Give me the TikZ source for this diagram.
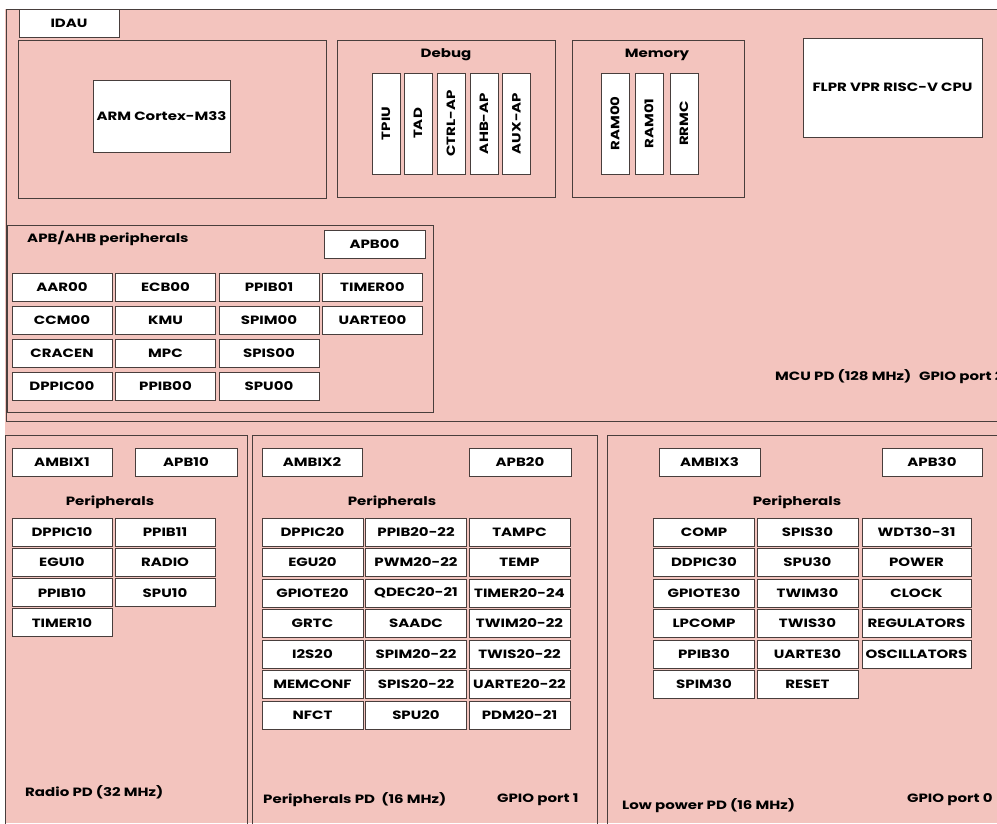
\documentclass[tikz,border=0pt]{standalone}
\usepackage{fontspec}
\setmainfont{Poppins}[FakeStretch=1.25]
\usetikzlibrary{positioning}
\definecolor{pdpink}{RGB}{243,196,190}
\definecolor{edgegray}{RGB}{72,62,60}

\begin{document}
\begin{tikzpicture}[
    x=1pt,
    y=-1pt,
    region/.style={draw=edgegray,line width=1pt},
    block/.style={draw=edgegray,fill=white,line width=0.9pt,inner sep=0pt,
      minimum height=28pt,font=\fontsize{12}{14}\selectfont\bfseries},
    vblock/.style={block,minimum width=101pt,minimum height=28pt,rotate=90},
    title/.style={inner sep=0pt,font=\fontsize{12}{14}\selectfont\bfseries}
]
  \useasboundingbox (0,0) rectangle (997,823);
  \fill[pdpink] (5,9) rectangle (997,823);

  % power domains
  \draw[region] (6,9) rectangle (1010,421);
  \draw[region] (18,40) rectangle (326,198);
  \draw[region] (337,40) rectangle (555,197);
  \draw[region] (572,40) rectangle (744,197);
  \draw[region] (7,225) rectangle (433,412);
  \draw[region] (5,435) rectangle (247,830);
  \draw[region] (252,435) rectangle (597,830);
  \draw[region] (607,435) rectangle (1010,830);

  % MCU PD
  \node[block,minimum width=100pt] (idau) at (69,23) {IDAU};
  \node[block,minimum width=137pt,minimum height=72pt] (arm) at (161.5,116) {ARM Cortex-M33};
  \node[block,minimum width=179pt,minimum height=99pt] (flpr) at (892.5,87.5) {FLPR VPR RISC-V CPU};

  \node[title] (debug) at (446,55) {Debug};
  \foreach \lbl/\x in {TPIU/386,TAD/418,CTRL-AP/451,AHB-AP/484,AUX-AP/516.5}
    \node[vblock] (dbg\lbl) at (\x,123.5) {\lbl};
  \node[title] (memory) at (657,55) {Memory};
  \foreach \lbl/\x in {RAM00/615,RAM01/649,RRMC/684}
    \node[vblock] (mem\lbl) at (\x,123.5) {\lbl};

  \node[title,anchor=west] (apbtitle) at (27,238) {APB/AHB peripherals};
  \node[block,minimum width=101pt] (apb00) at (374.5,244) {APB00};
  \foreach \lbl/\c/\r in {AAR00/0/0,CCM00/0/1,CRACEN/0/2,DPPIC00/0/3,
      ECB00/1/0,KMU/1/1,MPC/1/2,PPIB00/1/3,
      PPIB01/2/0,SPIM00/2/1,SPIS00/2/2,SPU00/2/3,
      TIMER00/3/0,UARTE00/3/1}
    \node[block,minimum width=100pt] (apb\c\r) at (62+103.5*\c,287+33*\r) {\lbl};

  \node[title,anchor=west] (mcupd) at (775,376) {MCU PD (128 MHz)};
  \node[title,anchor=west] (gpio2) at (919,378) {GPIO port 2};

  % Radio PD
  \node[block,minimum width=100pt] (ambix1) at (62,462) {AMBIX1};
  \node[block,minimum width=102pt] (apb10) at (186,462) {APB10};
  \node[title] (radioper) at (110,502) {Peripherals};
  \foreach \lbl/\c/\r in {DPPIC10/0/0,EGU10/0/1,PPIB10/0/2,TIMER10/0/3,
      PPIB11/1/0,RADIO/1/1,SPU10/1/2}
    \node[block,minimum width=100pt] (rad\c\r) at (62+103*\c,532+30.3*\r) {\lbl};
  \node[title,anchor=west] (radiopd) at (25,792) {Radio PD (32 MHz)};

  % Peripherals PD
  \node[block,minimum width=100pt] (ambix2) at (312,462) {AMBIX2};
  \node[block,minimum width=102pt] (apb20) at (520,462) {APB20};
  \node[title] (perper) at (392,502) {Peripherals};
  \foreach \lbl/\c/\r in {DPPIC20/0/0,EGU20/0/1,GPIOTE20/0/2,GRTC/0/3,I2S20/0/4,MEMCONF/0/5,NFCT/0/6,
      PPIB20-22/1/0,PWM20-22/1/1,QDEC20-21/1/2,SAADC/1/3,SPIM20-22/1/4,SPIS20-22/1/5,SPU20/1/6,
      TAMPC/2/0,TEMP/2/1,TIMER20-24/2/2,TWIM20-22/2/3,TWIS20-22/2/4,UARTE20-22/2/5,PDM20-21/2/6}
    \node[block,minimum width=101pt] (per\c\r) at (312.5+103.5*\c,532+30.5*\r) {\lbl};
  \node[title,anchor=west] (perpd) at (263,800) {Peripherals PD\ \ (16 MHz)};
  \node[title,anchor=west] (gpio1) at (497,800) {GPIO port 1};

  % Low power PD
  \node[block,minimum width=101pt] (ambix3) at (709.5,462) {AMBIX3};
  \node[block,minimum width=100pt] (apb30) at (932,462) {APB30};
  \node[title] (lpper) at (797,502) {Peripherals};
  \foreach \lbl/\c/\r in {COMP/0/0,DDPIC30/0/1,GPIOTE30/0/2,LPCOMP/0/3,PPIB30/0/4,SPIM30/0/5,
      SPIS30/1/0,SPU30/1/1,TWIM30/1/2,TWIS30/1/3,UARTE30/1/4,RESET/1/5}
    \node[block,minimum width=101pt] (lp\c\r) at (704+103.5*\c,532+30.5*\r) {\lbl};
  \foreach \lbl/\r in {WDT30-31/0,POWER/1,CLOCK/2,REGULATORS/3,OSCILLATORS/4}
    \node[block,minimum width=109pt] (lp2\r) at (916.5,532+30.5*\r) {\lbl};
  \node[title,anchor=west] (lppd) at (622,806) {Low power PD (16 MHz)};
  \node[title,anchor=west] (gpio0) at (907,800) {GPIO port 0};
\end{tikzpicture}
\end{document}
